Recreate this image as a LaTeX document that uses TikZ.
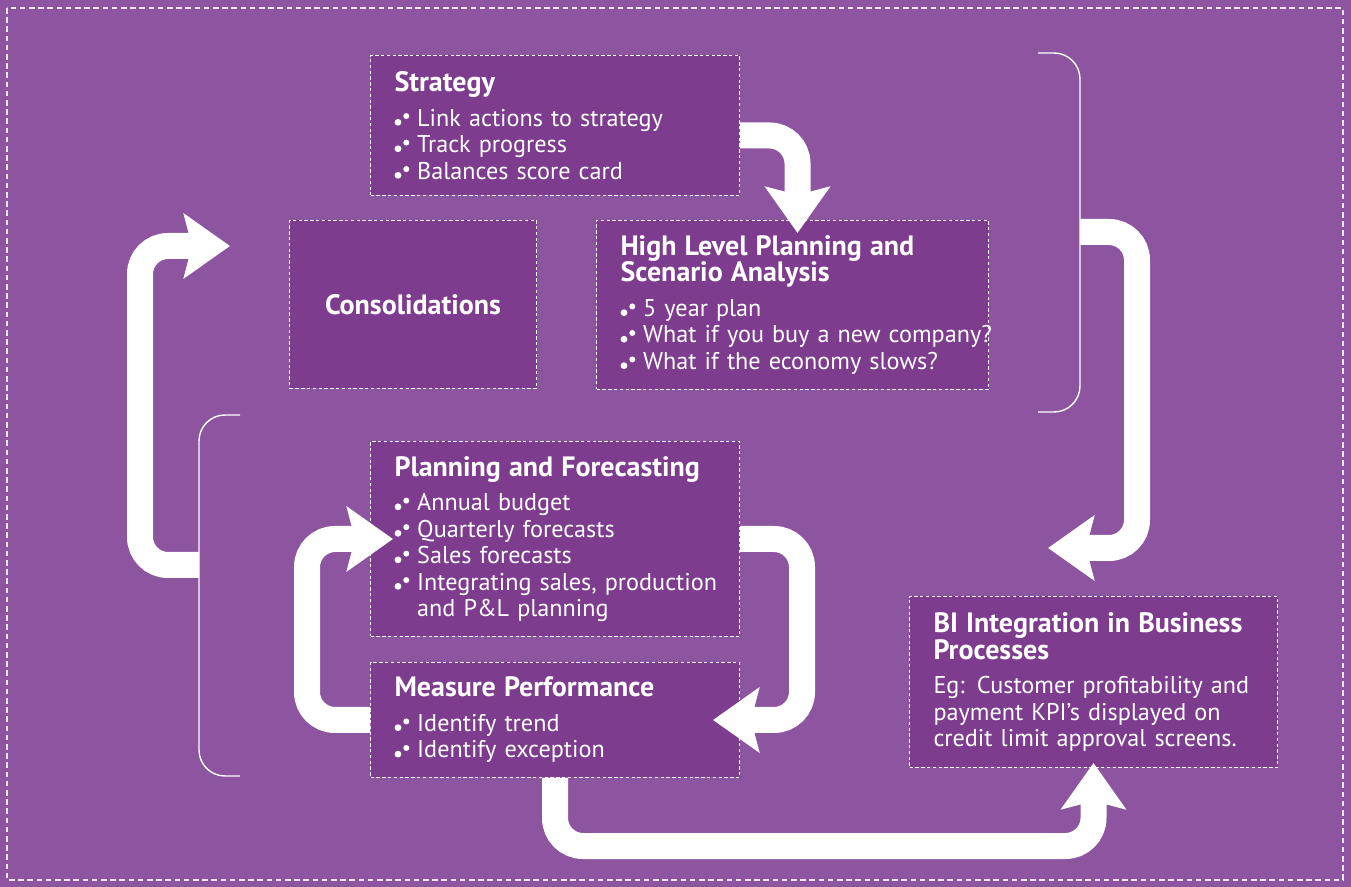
\documentclass[tikz,border=0pt]{standalone}
\usepackage{fontspec}
\setmainfont{PT Sans}
\usetikzlibrary{arrows.meta}

\definecolor{bgpurple}{RGB}{141,84,160}
\definecolor{boxpurple}{RGB}{125,60,142}

\newcommand{\ttlfont}{\bfseries\fontsize{14}{13.5}\selectfont}
\newcommand{\bodyfont}{\fontsize{12.1}{13.25}\selectfont}
\newcommand{\dbul}{\makebox[11.35pt][l]{\tikz[baseline=0pt]{\path (0pt,0pt);
    \fill[white] (1.75pt,1.9pt) circle (1.7pt) (5.9pt,5pt) circle (1.5pt);}}}
\newcommand{\bitem}[1]{\mbox{\dbul #1}}

\tikzstyle{stagebox}=[rectangle, anchor=north west, draw=white, line width=0.5pt, dash pattern=on 1.7pt off 1.2pt, fill=boxpurple, text=white, inner xsep=12pt, inner ysep=0pt, align=left, font=\bodyfont]
\tikzstyle{flow}=[color=white, line width=13pt, rounded corners=14pt, -{Stealth[length=23pt,width=32pt,inset=4pt]}]
\tikzstyle{brk}=[draw=white, line width=0.7pt, rounded corners=13pt]
\tikzstyle{outerframe}=[draw=white!85!bgpurple, line width=0.9pt, dash pattern=on 2.8pt off 1.8pt]

\begin{document}
\begin{tikzpicture}[x=0.5pt,y=-0.5pt]
        \fill[bgpurple] (0,0) rectangle (1351,887);
        \useasboundingbox (0,0) rectangle (1351,887);
        \draw[outerframe] (7,8) rectangle (1343,880);
        %
        \draw (370,55) node[stagebox, minimum width=184.5pt, minimum height=70pt, text width=160.5pt](strat){{\ttlfont Strategy}\\[4pt]\bitem{Link actions to strategy}\\\bitem{Track progress}\\\bitem{Balances score card}};
        \draw (289,220) node[stagebox, minimum width=123.5pt, minimum height=84pt, align=center, font=\ttlfont](cons){Consolidations};
        \draw (596,220) node[stagebox, minimum width=196pt, minimum height=84.5pt, text width=172pt](hlp){{\ttlfont High Level Planning and\\Scenario Analysis}\\[4pt]\bitem{5 year plan}\\\bitem{What if you buy a new company?}\\\bitem{What if the economy slows?}};
        \draw (370,441) node[stagebox, minimum width=184.5pt, minimum height=97.5pt, text width=160.5pt](pf){{\ttlfont Planning and Forecasting}\\[4pt]\bitem{Annual budget}\\\bitem{Quarterly forecasts}\\\bitem{Sales forecasts}\\\bitem{Integrating sales, production}\\\hspace*{11.35pt}and P\&L planning};
        \draw (370,662) node[stagebox, minimum width=184.5pt, minimum height=57.5pt, text width=160.5pt](mp){{\ttlfont Measure Performance}\\[4pt]\bitem{Identify trend}\\\bitem{Identify exception}};
        \draw (909,596) node[stagebox, minimum width=184pt, minimum height=85.5pt, text width=160pt](bi){{\ttlfont \mbox{BI Integration in Business}\\Processes}\\[4pt]\mbox{Eg: Customer profitability and}\\payment KPI’s displayed on\\\mbox{credit limit approval screens.}};
        %
        \draw[brk] (1038,53) -| (1080,232) coordinate (rbrk) |- (1038,412);
        \draw[brk] (240,415) -| (199,565) coordinate (lbrk) |- (240,776);
        \coordinate (constip) at (230,246);
        \coordinate (bitip) at (1048,548);
        %
        \draw[flow] ([yshift=-5pt]strat.east) -| ([xshift=2.5pt,yshift=-6.5pt]hlp.north);
        \draw[flow] (lbrk) -- ++(-59,0) |- (constip);
        \draw[flow] (mp.west) -- ++(-63,0) |- ([xshift=11.5pt]pf.west);
        \draw[flow] (pf.east) -- ++(62,0) |- ([xshift=-13.5pt]mp.east);
        \draw[flow] (rbrk) -- ++(57,0) |- (bitip);
        \draw[flow] (mp.south) -- ++(0,68) -| ([yshift=2.5pt]bi.south);
        %
\end{tikzpicture}
\end{document}
